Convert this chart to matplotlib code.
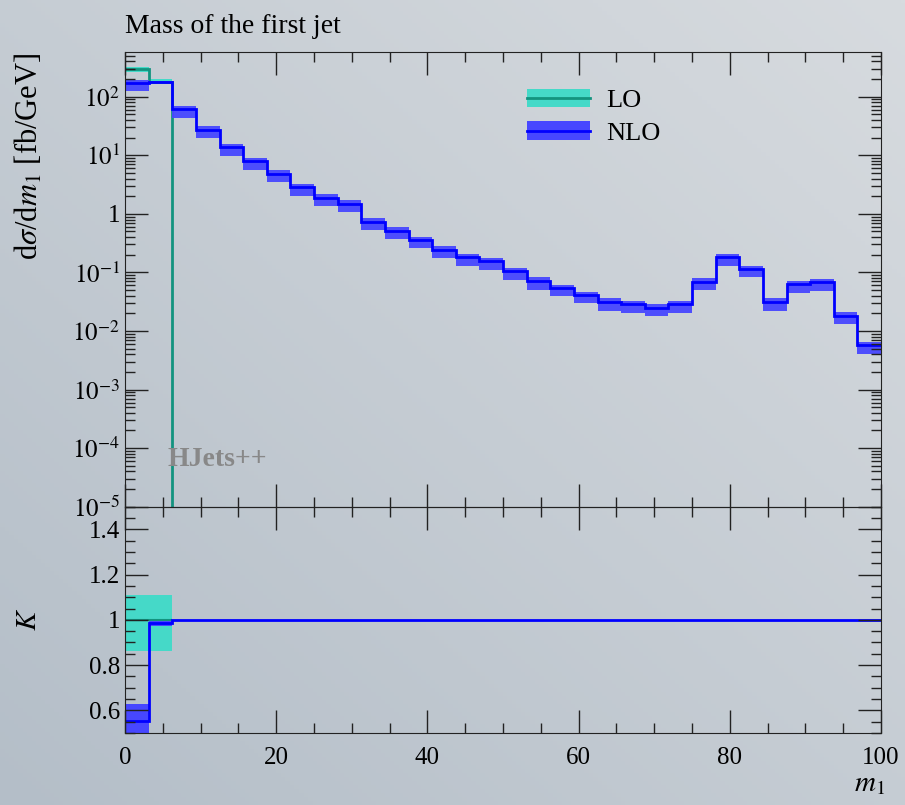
import numpy as np
import matplotlib
matplotlib.use("Agg")
import matplotlib.pyplot as plt
from matplotlib.patches import Patch
from matplotlib.lines import Line2D
from matplotlib.ticker import FixedLocator, LogLocator, MultipleLocator, FuncFormatter, NullFormatter

plt.rcParams['font.family'] = ['Liberation Serif', 'DejaVu Serif']
plt.rcParams['mathtext.fontset'] = 'stix'

# bin edges of m_1 (GeV), 32 bins of 3.125
edges = np.arange(0, 100.001, 3.125)

# NLO differential cross section [fb/GeV] and its band
nlo = [169, 176, 61, 27, 13.6, 7.9, 4.8, 2.83, 1.9, 1.47, 0.735, 0.51, 0.357, 0.241,
       0.18, 0.155, 0.104, 0.071, 0.054, 0.041, 0.031, 0.0286, 0.0247, 0.0286,
       0.069, 0.18, 0.114, 0.031, 0.063, 0.068, 0.018, 0.0057]
nlo_hi = [193, 182, 70, 31, 15.6, 9.1, 5.5, 3.25, 2.18, 1.69, 0.85, 0.59, 0.41, 0.28,
          0.207, 0.178, 0.12, 0.082, 0.062, 0.047, 0.036, 0.033, 0.0284, 0.033,
          0.079, 0.207, 0.131, 0.036, 0.072, 0.078, 0.0207, 0.0066]
nlo_lo = [127, 170, 44, 19.5, 9.8, 5.7, 3.5, 2.04, 1.37, 1.06, 0.53, 0.37, 0.26, 0.174,
          0.13, 0.112, 0.075, 0.051, 0.039, 0.0295, 0.0223, 0.0206, 0.0178, 0.0206,
          0.05, 0.13, 0.082, 0.0223, 0.045, 0.049, 0.013, 0.0041]

# LO only fills the first two bins
lo = [301, 178] + [0] * 30
lo_hi = [325, 198]
lo_lo = [267, 165]

# K factor panel
k_nlo = [0.553, 0.985] + [1.0] * 30
k_nlo_hi = [0.628, 0.995]
k_nlo_lo = [0.40, 0.975]
k_lo = [1.0, 1.0]
k_lo_hi = [1.11, 1.11]
k_lo_lo = [0.862, 0.862]

teal_band = '#45d9c8'
teal_line = '#13937f'
blue_band = '#4747ff'
blue_line = '#0000ff'

fig = plt.figure(figsize=(9.05, 8.05), dpi=100)

# soft gradient background
bg = fig.add_axes([0, 0, 1, 1], zorder=-10)
gx, gy = np.meshgrid(np.linspace(0, 1, 200), np.linspace(0, 1, 200))
g = 0.5 * gx + 0.5 * gy
c0 = np.array([0xb4, 0xbe, 0xc8]) / 255
c1 = np.array([0xd7, 0xdb, 0xdf]) / 255
img = c0[None, None, :] + (c1 - c0)[None, None, :] * g[:, :, None]
bg.imshow(img, origin='lower', extent=[0, 1, 0, 1], aspect='auto')
bg.axis('off')

left, right = 125 / 905, 881 / 905
ax = fig.add_axes([left, 1 - 506.7 / 805, right - left, (506.7 - 52.3) / 805])
axr = fig.add_axes([left, 1 - 733 / 805, right - left, (733 - 506.7) / 805], sharex=ax)
for a in (ax, axr):
    a.patch.set_alpha(0)

# main panel
ax.set_yscale('log')
ax.stairs(lo_hi, edges[:3], baseline=lo_lo, fill=True, color=teal_band, lw=0)
ax.stairs(lo, edges, baseline=None, color=teal_line, lw=2)
ax.stairs(nlo_hi, edges, baseline=nlo_lo, fill=True, color=blue_band, lw=0, alpha=0.95)
ax.stairs(nlo, edges, baseline=None, color=blue_line, lw=2)
ax.set_xlim(0, 100)
ax.set_ylim(1e-5, 573)


def log_fmt(v, pos):
    e = int(round(np.log10(v)))
    if e == 0:
        return '1'
    return r'$10^{%d}$' % e


ax.yaxis.set_major_locator(LogLocator(base=10, numticks=20))
ax.yaxis.set_minor_locator(LogLocator(base=10, subs=np.arange(2, 10), numticks=20))
ax.yaxis.set_major_formatter(FuncFormatter(log_fmt))
ax.yaxis.set_minor_formatter(NullFormatter())
ax.set_ylabel(r'd$\sigma$/d$m_1$ [fb/GeV]', fontsize=22, loc='top')
ax.yaxis.set_label_coords(-0.106, 1.0)
ax.set_title('Mass of the first jet', loc='left', fontsize=20, pad=14)
ax.text(0.056, 0.103, 'HJets++', transform=ax.transAxes, color='#888888',
        fontsize=20, fontweight='bold', va='center')

handles = [(Patch(color=teal_band, lw=0), Line2D([], [], color=teal_line, lw=2)),
           (Patch(color=blue_band, lw=0), Line2D([], [], color=blue_line, lw=2)),]
ax.legend(handles, ['LO', 'NLO'], loc='upper left', bbox_to_anchor=(0.50, 0.972),
          frameon=False, fontsize=19, handlelength=2.4, handleheight=0.7,
          labelspacing=0.35, handletextpad=0.6)

# ratio panel
axr.stairs(k_lo_hi, edges[:3], baseline=k_lo_lo, fill=True, color=teal_band, lw=0)
axr.stairs(k_lo, edges[:3], baseline=None, color=teal_line, lw=1.5)
axr.stairs(k_nlo_hi, edges[:3], baseline=k_nlo_lo, fill=True, color=blue_band, lw=0)
axr.stairs(k_nlo, edges, baseline=None, color=blue_line, lw=2)
axr.set_ylim(0.5, 1.5)
axr.yaxis.set_major_locator(FixedLocator([0.6, 0.8, 1.0, 1.2, 1.4]))
axr.yaxis.set_minor_locator(MultipleLocator(0.05))
axr.yaxis.set_major_formatter(FuncFormatter(lambda v, p: ('%g' % v)))
axr.set_ylabel(r'$K$', fontsize=21)
axr.yaxis.set_label_coords(-0.11, 0.5)
axr.set_xlabel(r'$m_1$', fontsize=21)
axr.xaxis.set_label_coords(0.985, -0.17)

for a in (ax, axr):
    a.xaxis.set_major_locator(MultipleLocator(20))
    a.xaxis.set_minor_locator(MultipleLocator(5))
    a.tick_params(which='both', direction='in', top=True, right=True, labelsize=18,
                  color='#222222')
    a.tick_params(which='major', length=16.5, width=1.0)
    a.tick_params(which='minor', length=7.5, width=1.0)
    for s in a.spines.values():
        s.set_color('#222222')
ax.tick_params(labelbottom=False)
axr.tick_params(axis='x', pad=10)

fig.savefig('out.png', dpi=100)
